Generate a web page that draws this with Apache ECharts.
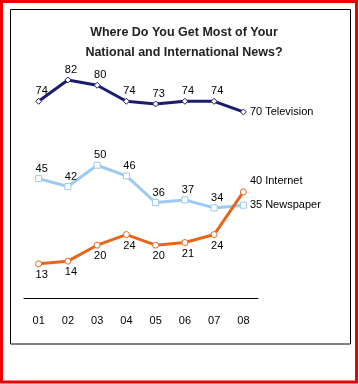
<!DOCTYPE html>
<html><head><meta charset="utf-8">
<script src="https://cdn.jsdelivr.net/npm/echarts@6/dist/echarts.min.js"></script>
<style>html,body{margin:0;padding:0;background:#fff}#c{width:359px;height:384px}</style>
</head><body><div id="c"></div>
<script>
const years = ['01','02','03','04','05','06','07','08'];
const television = [74,82,80,74,73,74,74,70];
const newspaper = [45,42,50,46,36,37,34,35];
const internet = [13,14,20,24,20,21,24,40];
const titleLines = ['Where Do You Get Most of Your','National and International News?'];

const chart = echarts.init(document.getElementById('c'), null, {renderer:'canvas'});
const lblFont = {fontFamily:'Liberation Sans, Arial, sans-serif', fontSize:11, color:'#000'};

function mkSeries(name, data, color, symbol, labelPos, lastLabel, lastOffset) {
  return {
    type:'line', name, symbol, symbolSize:6, showAllSymbol:true,
    lineStyle:{color, width:3},
    itemStyle:{color:'#fff', borderColor:color, borderWidth:1},
    data: data.map((v,i)=>{
      if (i === data.length-1) {
        return {value:v, label:{show:true, position:'right', distance:3, offset:lastOffset,
          formatter: v + ' ' + lastLabel, ...lblFont}};
      }
      return v;
    }),
    label:{show:true, position:labelPos, distance: labelPos==='top'?1:2, offset:[3,0], ...lblFont},
    z: 3
  };
}

chart.setOption({
  animation:false,
  title:{
    text: titleLines.join('\n'), left:179, top:18, textAlign:'center',
    textStyle:{fontFamily:'Liberation Sans, Arial, sans-serif', fontWeight:'bold', fontSize:12.5, color:'#222', lineHeight:20}
  },
  grid:{left:24, width:234, top:32, bottom:85.5, containLabel:false},
  xAxis:{type:'category', data:years, boundaryGap:true,
    axisLine:{lineStyle:{color:'#000', width:1}}, axisTick:{show:false},
    axisLabel:{margin:17, ...lblFont}},
  yAxis:{type:'value', min:0, max:100, show:false, splitLine:{show:false}},
  series:[
    mkSeries('Television', television, '#1b1b6f', 'diamond', 'top', 'Television', [0,0]),
    mkSeries('Newspaper', newspaper, '#9ccaf4', 'rect', 'top', 'Newspaper', [0,0]),
    mkSeries('Internet', internet, '#e8661c', 'circle', 'bottom', 'Internet', [0,-11])
  ],
  graphic:[
    {type:'rect', shape:{x:1.5, y:1.5, width:355, height:380.5}, style:{fill:'none', stroke:'#e00', lineWidth:3}, silent:true},
    {type:'rect', shape:{x:10.5, y:9.5, width:340, height:334.5}, style:{fill:'none', stroke:'#000', lineWidth:1}, silent:true}
  ]
});
</script></body></html>
